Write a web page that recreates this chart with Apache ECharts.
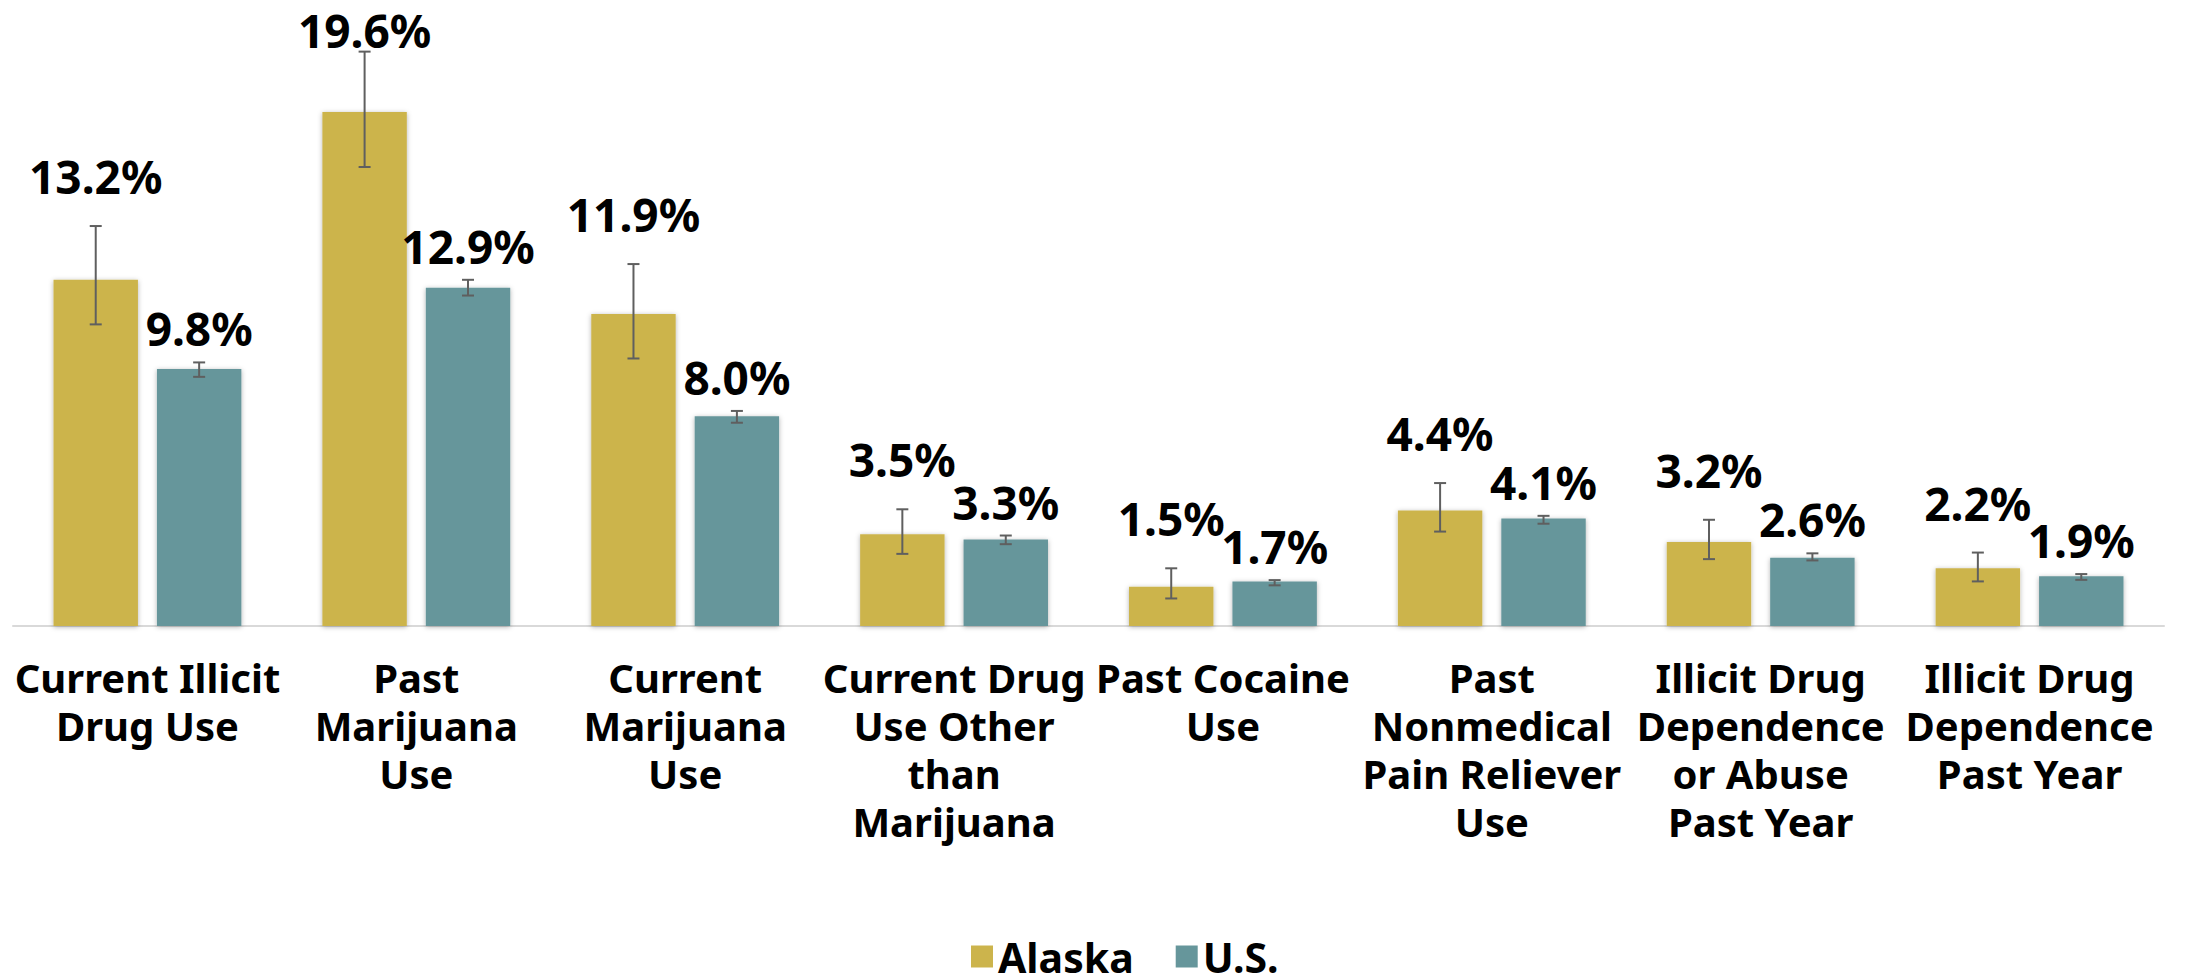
<!DOCTYPE html>
<html>
<head>
<meta charset="utf-8">
<script src="https://cdn.jsdelivr.net/npm/echarts@6/dist/echarts.min.js"></script>
<style>
  html, body { margin: 0; padding: 0; background: #ffffff; }
  #chart { width: 2185px; height: 973px; }
</style>
</head>
<body>
<div id="chart"></div>
<script>
const categories = [
  'Current Illicit\nDrug Use',
  'Past\nMarijuana\nUse',
  'Current\nMarijuana\nUse',
  'Current Drug\nUse Other\nthan\nMarijuana',
  'Past Cocaine\nUse',
  'Past\nNonmedical\nPain Reliever\nUse',
  'Illicit Drug\nDependence\nor Abuse\nPast Year',
  'Illicit Drug\nDependence\nPast Year'
];
const seriesNames = ['Alaska', 'U.S.'];
const alaska = [13.2, 19.6, 11.9, 3.5, 1.5, 4.4, 3.2, 2.2];
const us = [9.8, 12.9, 8.0, 3.3, 1.7, 4.1, 2.6, 1.9];
const alaskaLow = [11.5, 17.5, 10.2, 2.75, 1.05, 3.6, 2.55, 1.7];
const alaskaHigh = [15.25, 21.9, 13.8, 4.45, 2.2, 5.45, 4.05, 2.8];
const usLow = [9.5, 12.6, 7.75, 3.12, 1.55, 3.9, 2.5, 1.76];
const usHigh = [10.05, 13.2, 8.2, 3.45, 1.75, 4.2, 2.77, 1.98];

const COLORS = ['#CCB44C', '#66969B'];
const BAR_RATIO = 0.314;
const GAP_RATIO = 0.225;
const FONT = "'Noto Sans', 'Open Sans', sans-serif";

function errorSeries(name, values, low, high, side, labelGap) {
  return {
    type: 'custom',
    name: name + ' error',
    z: 10,
    clip: false,
    silent: true,
    encode: { x: 0, y: [1, 2] },
    data: values.map((v, i) => [i, low[i], high[i], v]),
    renderItem: function (params, api) {
      const i = api.value(0);
      const catW = api.size([1, 0])[0];
      const barW = catW * BAR_RATIO;
      const dx = side * (barW + barW * GAP_RATIO) / 2;
      const t = api.coord([i, api.value(2)]);
      const b = api.coord([i, api.value(1)]);
      const x = t[0] + dx;
      const cap = 6;
      const ls = { stroke: '#5f5f5f', lineWidth: 2 };
      const ly = Math.max(t[1] - labelGap, 30);
      return {
        type: 'group',
        children: [
          { type: 'line', shape: { x1: x, y1: t[1], x2: x, y2: b[1] }, style: ls },
          { type: 'line', shape: { x1: x - cap, y1: t[1], x2: x + cap, y2: t[1] }, style: ls },
          { type: 'line', shape: { x1: x - cap, y1: b[1], x2: x + cap, y2: b[1] }, style: ls },
          {
            type: 'text',
            style: {
              text: api.value(3).toFixed(1) + '%',
              x: x, y: ly,
              align: 'center', verticalAlign: 'middle',
              fontFamily: FONT, fontWeight: 'bold', fontSize: 46,
              fill: '#000000'
            }
          }
        ]
      };
    }
  };
}

const chart = echarts.init(document.getElementById('chart'), null, { renderer: 'svg' });
chart.setOption({
  animation: false,
  backgroundColor: '#ffffff',
  grid: { left: 13, right: 21, top: 49, bottom: 347, containLabel: false },
  legend: {
    data: seriesNames,
    left: 971,
    top: 936,
    padding: 0,
    itemWidth: 22,
    itemHeight: 22,
    itemGap: 42,
    icon: 'rect',
    textStyle: { fontFamily: FONT, fontWeight: 'bold', fontSize: 41, color: '#000000' }
  },
  xAxis: {
    type: 'category',
    data: categories,
    axisTick: { show: false },
    axisLine: { lineStyle: { color: '#D9D9D9', width: 2 } },
    axisLabel: {
      interval: 0,
      margin: 27,
      color: '#000000',
      fontFamily: FONT,
      fontWeight: 'bold',
      fontSize: 40,
      lineHeight: 48,
      align: 'center'
    }
  },
  yAxis: { type: 'value', min: 0, max: 22, show: false, splitLine: { show: false } },
  series: [
    {
      type: 'bar', name: seriesNames[0], data: alaska,
      barWidth: (BAR_RATIO * 100) + '%', barGap: (GAP_RATIO * 100) + '%',
      itemStyle: { color: COLORS[0], shadowBlur: 5, shadowColor: 'rgba(0,0,0,0.3)', shadowOffsetY: 1 }
    },
    {
      type: 'bar', name: seriesNames[1], data: us,
      barWidth: (BAR_RATIO * 100) + '%', barGap: (GAP_RATIO * 100) + '%',
      itemStyle: { color: COLORS[1], shadowBlur: 5, shadowColor: 'rgba(0,0,0,0.3)', shadowOffsetY: 1 }
    },
    errorSeries(seriesNames[0], alaska, alaskaLow, alaskaHigh, -1, 50),
    errorSeries(seriesNames[1], us, usLow, usHigh, 1, 34)
  ]
});
</script>
</body>
</html>
